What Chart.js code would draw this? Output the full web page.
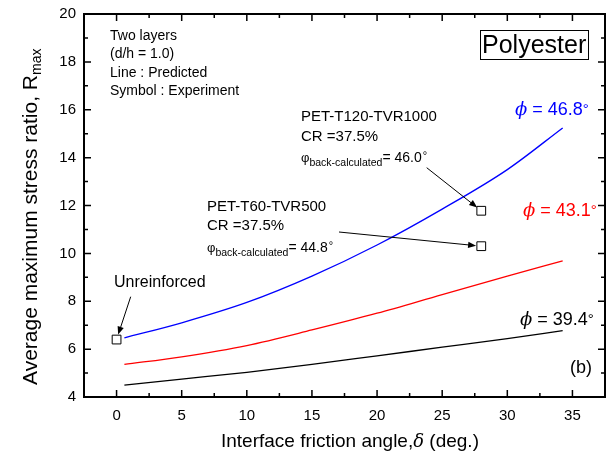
<!DOCTYPE html>
<html><head><meta charset="utf-8">
<script src="https://cdn.jsdelivr.net/npm/chart.js@4.4.0/dist/chart.umd.min.js"></script>
<style>html,body{margin:0;padding:0;background:#fff;} #c{display:block;}</style>
</head><body>
<canvas id="c" width="616" height="456"></canvas>
<script>
// ---- data ----
const deltaCurve = [0.6, 5, 10, 15, 20, 25, 30, 34.25];
const rPhi468 = [6.47, 7.10, 7.95, 9.05, 10.35, 11.85, 13.50, 15.24];
const rPhi431 = [5.36, 5.68, 6.15, 6.80, 7.50, 8.28, 9.05, 9.69];
const rPhi394 = [4.50, 4.75, 5.03, 5.36, 5.72, 6.08, 6.44, 6.77];
const expDelta = [0, 28, 28];
const expR = [6.40, 11.78, 10.30];
const xTicks = [0, 5, 10, 15, 20, 25, 30, 35];
const xMinor = [2.5, 7.5, 12.5, 17.5, 22.5, 27.5, 32.5];
const yTicks = [4, 6, 8, 10, 12, 14, 16, 18, 20];
const yMinor = [5, 7, 9, 11, 13, 15, 17, 19];
const curveLabels = ['46.8', '43.1', '39.4'];

const SANS = "'Liberation Sans', Arial, sans-serif";
const SERIF = "'DejaVu Serif', 'Liberation Serif', serif";

function pts(xs, ys) { return xs.map((x, i) => ({ x: x, y: ys[i] })); }

function rich(ctx, x, y, parts) {
  for (const p of parts) {
    ctx.font = p.f;
    ctx.fillStyle = p.c || '#000';
    ctx.fillText(p.t, x, y + (p.dy || 0));
    x += ctx.measureText(p.t).width + (p.g || 0);
  }
  return x;
}

function arrow(ctx, x1, y1, x2, y2) {
  const a = Math.atan2(y2 - y1, x2 - x1);
  const L = 8, W = 3.2;
  ctx.strokeStyle = '#000'; ctx.fillStyle = '#000'; ctx.lineWidth = 1;
  ctx.beginPath(); ctx.moveTo(x1, y1);
  ctx.lineTo(x2 - Math.cos(a) * L * 0.8, y2 - Math.sin(a) * L * 0.8); ctx.stroke();
  ctx.beginPath();
  ctx.moveTo(x2, y2);
  ctx.lineTo(x2 - L * Math.cos(a) + W * Math.sin(a), y2 - L * Math.sin(a) - W * Math.cos(a));
  ctx.lineTo(x2 - L * Math.cos(a) - W * Math.sin(a), y2 - L * Math.sin(a) + W * Math.cos(a));
  ctx.closePath(); ctx.fill();
}

const decor = {
  id: 'decor',
  afterDraw(chart) {
    const ctx = chart.ctx, a = chart.chartArea;
    const xs = chart.scales.x, ys = chart.scales.y;
    ctx.save();
    // frame
    ctx.strokeStyle = '#000'; ctx.lineWidth = 2;
    ctx.strokeRect(a.left, a.top, a.right - a.left, a.bottom - a.top);
    // inward ticks on all four sides
    ctx.lineWidth = 1.5;
    const tk = (v, len, isX) => {
      ctx.beginPath();
      if (isX) {
        const p = xs.getPixelForValue(v);
        ctx.moveTo(p, a.bottom); ctx.lineTo(p, a.bottom - len);
        ctx.moveTo(p, a.top); ctx.lineTo(p, a.top + len);
      } else {
        const p = ys.getPixelForValue(v);
        ctx.moveTo(a.left, p); ctx.lineTo(a.left + len, p);
        ctx.moveTo(a.right, p); ctx.lineTo(a.right - len, p);
      }
      ctx.stroke();
    };
    xTicks.forEach(v => tk(v, 7, true));
    xMinor.forEach(v => tk(v, 4, true));
    yTicks.forEach(v => tk(v, 7, false));
    yMinor.forEach(v => tk(v, 4, false));

    ctx.textAlign = 'left'; ctx.textBaseline = 'alphabetic';
    // legend-like note
    ctx.font = '14px ' + SANS; ctx.fillStyle = '#000';
    ctx.fillText('Two layers', 110, 40);
    ctx.fillText('(d/h = 1.0)', 110, 58);
    ctx.fillText('Line : Predicted', 110, 76.5);
    ctx.fillText('Symbol : Experiment', 110, 94.5);
    // Polyester box
    ctx.lineWidth = 1; ctx.strokeStyle = '#000';
    ctx.strokeRect(480.5, 30.5, 108, 29);
    ctx.font = '25px ' + SANS;
    ctx.fillText('Polyester', 482, 53);
    // curve labels
    const cl = [[515, 115, '#0000ff', curveLabels[0]], [523, 216, '#ff0000', curveLabels[1]], [520, 325, '#000000', curveLabels[2]]];
    cl.forEach(([x, y, c, v]) => {
      rich(ctx, x, y, [
        { t: '\u03D5', f: 'italic 18px ' + SERIF, c: c },
        { t: ' = ' + v, f: '18px ' + SANS, c: c },
        { t: '\u00B0', f: '15px ' + SANS, c: c, dy: -1 }
      ]);
    });
    ctx.font = '18px ' + SANS; ctx.fillStyle = '#000';
    ctx.fillText('(b)', 570, 373);

    // experiment annotations
    const blk = (x, y0, name, phi) => {
      ctx.font = '15px ' + SANS; ctx.fillStyle = '#000';
      ctx.fillText(name, x, y0);
      ctx.fillText('CR =37.5%', x, y0 + 19.5);
      rich(ctx, x, y0 + 41, [
        { t: '\u03C6', f: '13px ' + SANS },
        { t: 'back-calculated', f: '10.5px ' + SANS, dy: 4 },
        { t: '= ' + phi, f: '14px ' + SANS, g: 1 },
        { t: '\u00B0', f: '11px ' + SANS, dy: -3 }
      ]);
    };
    blk(301, 121, 'PET-T120-TVR1000', '46.0');
    blk(207, 210.5, 'PET-T60-TVR500', '44.8');
    ctx.font = '16px ' + SANS; ctx.fillStyle = '#000';
    ctx.fillText('Unreinforced', 114, 287);

    // arrows towards the experiment points
    const tip = (i, sx, sy) => {
      const px = xs.getPixelForValue(expDelta[i]), py = ys.getPixelForValue(expR[i]);
      const d = Math.hypot(px - sx, py - sy);
      const off = 5.2;
      arrow(ctx, sx, sy, px - (px - sx) / d * off, py - (py - sy) / d * off);
    };
    tip(0, 130.7, 296.7);
    tip(1, 426.7, 167.7);
    tip(2, 339, 232);

    // axis titles
    rich(ctx, 221, 447, [
      { t: 'Interface friction angle,', f: '19px ' + SANS },
      { t: '\u03B4', f: 'italic 18px ' + SERIF, g: 0 },
      { t: ' (deg.)', f: '19px ' + SANS }
    ]);
    ctx.save();
    ctx.translate(37, 385);
    ctx.rotate(-Math.PI / 2);
    rich(ctx, 0, 0, [
      { t: 'Average maximum stress ratio, R', f: '21px ' + SANS },
      { t: 'max', f: '14px ' + SANS, dy: 4 }
    ]);
    ctx.restore();
    ctx.restore();
  }
};

const lineDs = (data, color) => ({
  type: 'line', data: data, borderColor: color, borderWidth: 1.3,
  pointRadius: 0, fill: false, cubicInterpolationMode: 'monotone', order: 2
});

new Chart(document.getElementById('c'), {
  type: 'scatter',
  data: {
    datasets: [
      lineDs(pts(deltaCurve, rPhi468), '#0000ff'),
      lineDs(pts(deltaCurve, rPhi431), '#ff0000'),
      lineDs(pts(deltaCurve, rPhi394), '#000000'),
      {
        type: 'scatter', data: pts(expDelta, expR), pointStyle: 'rect',
        pointRadius: 6.2, pointBorderWidth: 1, borderColor: '#000',
        backgroundColor: '#fff', pointBackgroundColor: '#fff', order: 1
      }
    ]
  },
  options: {
    responsive: false, animation: false, devicePixelRatio: 1,
    layout: { padding: { top: 14, right: 11, left: 0, bottom: 0 } },
    plugins: { legend: { display: false }, tooltip: { enabled: false } },
    scales: {
      x: {
        type: 'linear', min: -2.5, max: 37.5,
        grid: { display: false }, border: { display: false },
        afterBuildTicks: s => { s.ticks = xTicks.map(v => ({ value: v })); },
        afterFit: s => { s.height = 59; },
        ticks: { padding: 2, color: '#000', font: { family: SANS, size: 15 }, maxRotation: 0 }
      },
      y: {
        type: 'linear', min: 4, max: 20,
        grid: { display: false }, border: { display: false },
        afterBuildTicks: s => { s.ticks = yTicks.map(v => ({ value: v })); },
        afterFit: s => { s.width = 84; },
        ticks: { padding: 0, color: '#000', font: { family: SANS, size: 15 } }
      }
    }
  },
  plugins: [decor]
});
</script>
</body></html>
